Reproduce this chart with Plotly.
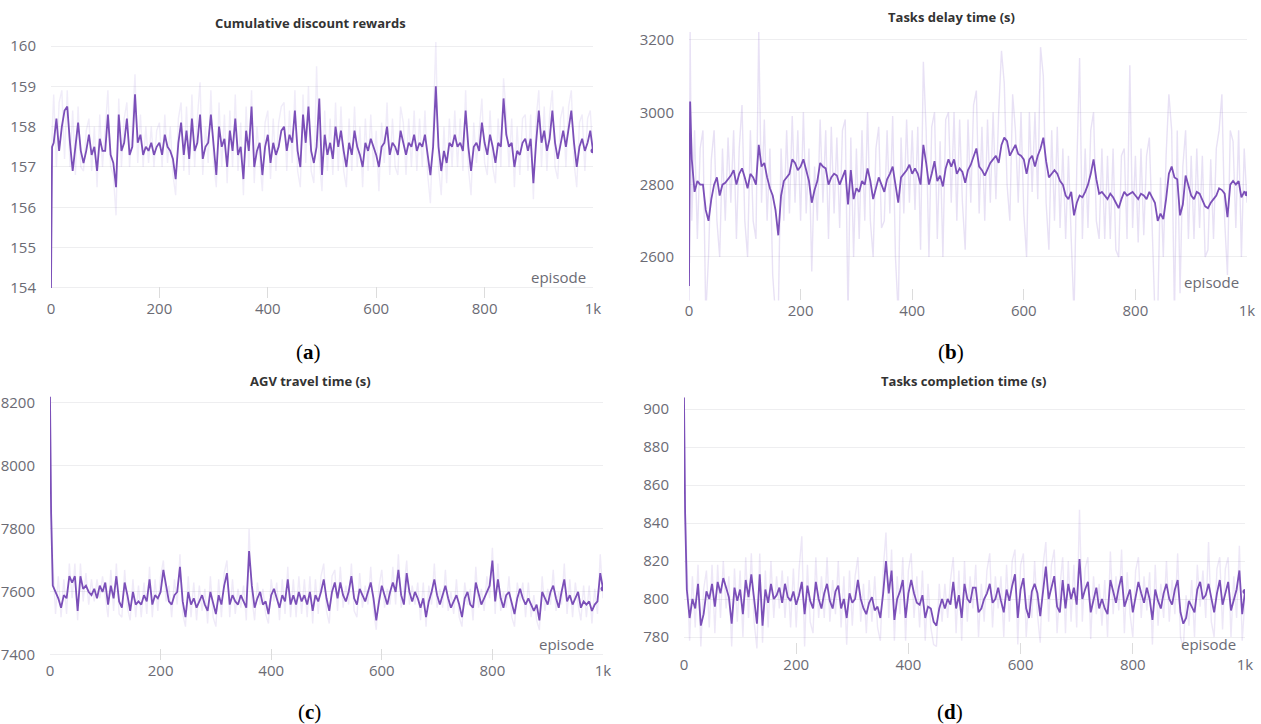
import plotly.graph_objects as go

# ---------------- data ----------------
EPISODES = [0, 2] + list(range(5, 1001, 5))
X_TICK_VALS = [0, 200, 400, 600, 800, 1000]
X_TICK_TEXT = ["0", "200", "400", "600", "800", "1k"]

TITLES = ["Cumulative discount rewards", "Tasks delay time (s)",
          "AGV travel time (s)", "Tasks completion time (s)"]
CAPTIONS = ["a", "b", "c", "d"]

A_SMOOTH = [154.0, 157.5,
    157.6, 158.2, 157.4, 158.0, 158.4, 158.5, 157.6, 156.9, 157.5, 158.1,
    157.4, 157.1, 157.4, 157.8, 157.3, 157.5, 156.9, 157.7, 157.4, 157.4,
    158.3, 157.3, 157.1, 156.5, 158.3, 157.4, 157.6, 158.2, 157.3, 157.5,
    158.8, 157.6, 157.8, 157.3, 157.5, 157.4, 157.6, 157.3, 157.5, 157.6,
    157.3, 157.8, 157.5, 157.4, 157.2, 156.7, 157.6, 158.1, 157.3, 157.9,
    157.2, 158.2, 157.4, 157.6, 158.3, 157.2, 157.5, 157.6, 158.3, 157.6,
    156.8, 158.0, 157.5, 157.7, 157.0, 157.9, 157.4, 158.2, 157.3, 157.5,
    156.7, 157.9, 157.4, 158.5, 157.0, 157.4, 157.6, 156.8, 157.5, 157.8,
    157.1, 157.6, 157.3, 157.5, 157.9, 158.0, 157.4, 157.8, 157.6, 158.4,
    157.4, 157.0, 158.3, 157.6, 158.5, 157.4, 157.1, 157.5, 158.7, 156.8,
    157.8, 157.3, 157.6, 157.2, 158.0, 157.5, 157.9, 157.4, 157.0, 157.6,
    157.3, 157.9, 157.5, 157.3, 157.0, 157.6, 157.4, 157.7, 157.5, 157.3,
    157.0, 157.5, 157.6, 158.0, 157.3, 157.6, 157.5, 157.3, 157.9, 157.6,
    157.3, 157.6, 157.5, 157.8, 157.4, 157.6, 157.5, 157.8, 157.3, 156.8,
    157.5, 159.0, 157.5, 156.9, 157.4, 157.1, 157.6, 157.5, 157.8, 157.5,
    157.6, 157.4, 158.4, 157.5, 156.9, 157.5, 157.6, 157.4, 158.1, 157.6,
    157.3, 157.8, 157.5, 157.1, 157.6, 157.5, 158.7, 157.8, 157.5, 157.6,
    157.0, 157.4, 157.3, 157.6, 157.7, 157.4, 157.7, 156.6, 157.6, 158.4,
    157.6, 157.9, 157.4, 157.7, 158.4, 157.6, 157.2, 157.6, 157.9, 157.5,
    157.9, 158.4, 157.6, 157.0, 157.5, 157.7, 157.4, 157.6, 157.9, 157.4]

A_RAW = [154.0, 157.8,
    158.8, 157.0, 158.6, 158.9, 157.2, 158.9, 157.0, 158.4, 156.8, 158.5,
    157.0, 156.9, 157.9, 158.2, 156.9, 158.0, 156.5, 158.3, 157.0, 157.9,
    158.9, 157.0, 156.8, 155.8, 158.7, 157.0, 158.2, 158.6, 157.0, 158.0,
    159.3, 157.1, 158.3, 157.0, 158.0, 157.1, 158.0, 157.0, 157.9, 158.1,
    157.0, 158.3, 157.1, 158.0, 156.8, 156.3, 158.2, 158.6, 156.9, 158.5,
    156.8, 158.8, 157.0, 158.2, 159.1, 156.8, 158.0, 157.1, 158.9, 157.1,
    156.5, 158.6, 157.0, 158.3, 156.6, 158.4, 157.0, 158.8, 156.9, 158.1,
    156.3, 158.5, 157.0, 158.9, 156.6, 158.0, 157.1, 156.4, 158.1, 158.4,
    156.7, 158.2, 156.9, 158.1, 158.5, 158.6, 156.9, 158.4, 157.1, 158.9,
    156.9, 156.5, 158.8, 157.1, 159.0, 156.9, 156.6, 159.5, 157.2, 156.4,
    158.4, 156.9, 158.2, 156.8, 158.6, 156.9, 158.5, 156.9, 156.5, 158.2,
    156.9, 158.5, 157.0, 158.0, 156.5, 158.2, 156.9, 158.3, 157.0, 157.9,
    156.4, 158.1, 157.1, 158.6, 156.8, 158.2, 157.0, 156.8, 158.5, 158.1,
    156.8, 158.2, 157.0, 158.4, 156.9, 158.2, 157.0, 158.4, 156.8, 156.1,
    158.0, 160.1, 157.0, 156.3, 158.0, 156.6, 158.2, 157.0, 158.4, 157.0,
    158.2, 156.9, 158.9, 157.0, 156.3, 158.1, 157.1, 158.0, 158.7, 157.1,
    156.8, 158.4, 157.0, 156.6, 158.2, 157.0, 159.2, 158.3, 157.0, 158.2,
    156.5, 158.0, 156.8, 158.2, 158.3, 156.9, 158.3, 156.2, 158.2, 158.9,
    157.0, 158.5, 156.9, 158.3, 158.9, 157.0, 156.7, 158.2, 158.5, 157.0,
    158.5, 158.9, 157.1, 156.5, 158.1, 158.3, 156.9, 158.2, 158.4, 157.3]

B_SMOOTH = [2520, 3030,
    2870, 2780, 2810, 2800, 2800, 2730, 2700, 2760, 2800, 2820,
    2770, 2800, 2805, 2815, 2825, 2840, 2800, 2830, 2845, 2820,
    2790, 2830, 2820, 2800, 2910, 2850, 2860, 2820, 2790, 2770,
    2730, 2660, 2770, 2810, 2820, 2830, 2870, 2860, 2840, 2850,
    2870, 2840, 2810, 2750, 2785, 2810, 2860, 2850, 2845, 2800,
    2820, 2830, 2825, 2800, 2820, 2840, 2745, 2840, 2760, 2790,
    2780, 2810, 2800, 2845, 2810, 2760, 2790, 2820, 2800, 2780,
    2815, 2830, 2850, 2800, 2750, 2820, 2830, 2840, 2855, 2830,
    2845, 2830, 2800, 2910, 2860, 2800, 2830, 2865, 2810, 2825,
    2795, 2845, 2870, 2850, 2870, 2830, 2845, 2835, 2805, 2840,
    2855, 2875, 2900, 2850, 2840, 2825, 2845, 2860, 2870, 2880,
    2860, 2910, 2930, 2920, 2880, 2895, 2910, 2885, 2880, 2870,
    2830, 2870, 2880, 2850, 2880, 2900, 2930, 2865, 2820, 2830,
    2840, 2830, 2810, 2800, 2770, 2760, 2780, 2715, 2750, 2770,
    2765, 2780, 2800, 2830, 2870, 2815, 2775, 2780, 2770, 2760,
    2775, 2765, 2750, 2735, 2760, 2780, 2770, 2775, 2780, 2770,
    2760, 2775, 2770, 2760, 2780, 2765, 2750, 2700, 2720, 2705,
    2760, 2830, 2850, 2820, 2815, 2715, 2745, 2825, 2795, 2770,
    2760, 2780, 2775, 2755, 2740, 2735, 2750, 2760, 2770, 2790,
    2785, 2775, 2710, 2800, 2810, 2800, 2810, 2765, 2780, 2775]

B_RAW = [2440, 3222,
    2700, 2950, 2650, 2900, 2950, 2440, 2600, 2870, 2950, 2700,
    2600, 2900, 2700, 2930, 2750, 2950, 2650, 2900, 3020, 2700,
    2600, 2950, 2700, 2650, 3222, 2750, 2980, 2700, 2900, 2550,
    2440, 2440, 2900, 2700, 2950, 2720, 2990, 2750, 2950, 2700,
    3000, 2720, 2900, 2560, 2850, 2700, 2980, 2750, 2950, 2650,
    2960, 2720, 2930, 2680, 2950, 2980, 2440, 2930, 2600, 2900,
    2650, 2950, 2700, 3000, 2700, 2600, 2900, 2960, 2680, 2700,
    2950, 2720, 2990, 2600, 2440, 2930, 2720, 2980, 2750, 2950,
    2730, 2960, 2620, 3140, 2950, 2600, 2960, 3000, 2650, 2920,
    2600, 2980, 3000, 2750, 3000, 2700, 2980, 2750, 2620, 2980,
    2750, 3020, 3060, 2720, 2960, 2700, 2980, 2750, 3000, 2760,
    3000, 3170, 3080, 2800, 2700, 3050, 2950, 2750, 3000, 2720,
    2600, 3000, 2780, 3000, 2760, 3180, 3100, 2750, 2620, 2950,
    2700, 2960, 2680, 2900, 2650, 2880, 2650, 2440, 2850, 3150,
    2650, 2900, 2680, 2950, 3000, 2700, 2650, 2900, 2650, 2880,
    2650, 2900, 2620, 2600, 2880, 2900, 2650, 3130, 2680, 2880,
    2640, 2900, 2660, 2880, 2930, 2650, 2440, 2440, 2820, 2600,
    2880, 3050, 2950, 2440, 2950, 2500, 2850, 2950, 2650, 2880,
    2650, 2900, 2680, 2880, 2600, 2620, 2870, 2650, 2900, 2950,
    3050, 2700, 2550, 2950, 2920, 2680, 2950, 2600, 2900, 2750]

C_SMOOTH = [8220, 7850,
    7620, 7600, 7580, 7550, 7590, 7580, 7650, 7630, 7650, 7540,
    7650, 7610, 7620, 7600, 7590, 7610, 7580, 7620, 7600, 7630,
    7560, 7620, 7580, 7650, 7570, 7550, 7630, 7590, 7540, 7600,
    7560, 7570, 7560, 7590, 7570, 7640, 7560, 7590, 7580, 7600,
    7670, 7620, 7570, 7560, 7590, 7600, 7680, 7570, 7520, 7600,
    7560, 7580, 7550, 7570, 7590, 7560, 7540, 7600, 7560, 7530,
    7590, 7560, 7620, 7660, 7560, 7590, 7570, 7560, 7590, 7570,
    7550, 7730, 7620, 7550, 7580, 7600, 7560, 7570, 7530, 7590,
    7610, 7580, 7550, 7590, 7570, 7640, 7560, 7590, 7560, 7600,
    7570, 7590, 7560, 7600, 7540, 7590, 7570, 7600, 7640, 7580,
    7540, 7600, 7630, 7580, 7630, 7590, 7570, 7600, 7650, 7580,
    7560, 7610, 7590, 7570, 7600, 7630, 7580, 7510, 7570, 7620,
    7590, 7560, 7600, 7630, 7600, 7670, 7590, 7560, 7660, 7600,
    7570, 7600, 7580, 7550, 7580, 7520, 7570, 7600, 7640, 7590,
    7560, 7590, 7620, 7580, 7550, 7570, 7590, 7560, 7520, 7580,
    7600, 7560, 7550, 7630, 7590, 7560, 7580, 7600, 7620, 7700,
    7570, 7640, 7580, 7550, 7590, 7600, 7560, 7530, 7580, 7610,
    7580, 7560, 7580, 7560, 7540, 7560, 7510, 7600, 7580, 7560,
    7600, 7620, 7580, 7550, 7600, 7640, 7570, 7590, 7560, 7580,
    7600, 7550, 7570, 7560, 7570, 7540, 7560, 7570, 7660, 7610]

C_RAW = [8220, 7900,
    7700, 7530, 7650, 7520, 7640, 7530, 7690, 7580, 7690, 7510,
    7690, 7570, 7660, 7560, 7640, 7570, 7640, 7580, 7650, 7580,
    7520, 7670, 7540, 7690, 7530, 7520, 7670, 7550, 7510, 7640,
    7520, 7620, 7520, 7630, 7530, 7680, 7520, 7640, 7540, 7650,
    7700, 7570, 7620, 7520, 7640, 7560, 7720, 7530, 7490, 7650,
    7520, 7630, 7510, 7620, 7540, 7610, 7500, 7650, 7520, 7490,
    7640, 7520, 7660, 7700, 7520, 7640, 7530, 7610, 7550, 7620,
    7510, 7800, 7580, 7510, 7630, 7560, 7610, 7530, 7500, 7640,
    7570, 7630, 7510, 7640, 7530, 7680, 7520, 7640, 7520, 7650,
    7530, 7640, 7520, 7650, 7500, 7640, 7530, 7650, 7690, 7540,
    7500, 7650, 7670, 7540, 7680, 7550, 7620, 7560, 7690, 7540,
    7520, 7660, 7550, 7620, 7560, 7680, 7540, 7480, 7620, 7670,
    7550, 7610, 7560, 7680, 7560, 7720, 7550, 7610, 7700, 7560,
    7620, 7560, 7630, 7510, 7630, 7490, 7620, 7560, 7690, 7550,
    7610, 7550, 7670, 7540, 7600, 7530, 7640, 7520, 7490, 7630,
    7560, 7610, 7510, 7680, 7550, 7610, 7540, 7650, 7580, 7740,
    7530, 7690, 7540, 7600, 7550, 7650, 7520, 7490, 7630, 7570,
    7630, 7520, 7630, 7520, 7590, 7510, 7480, 7650, 7540, 7610,
    7560, 7670, 7540, 7600, 7560, 7690, 7530, 7640, 7520, 7630,
    7560, 7510, 7620, 7520, 7620, 7500, 7610, 7530, 7720, 7580]

D_SMOOTH = [906, 845,
    805, 790, 800, 795, 808, 786, 792, 804, 800, 808,
    796, 809, 803, 811, 806, 801, 787, 806, 799, 805,
    792, 810, 801, 813, 800, 787, 813, 786, 805, 798,
    808, 800, 802, 806, 798, 808, 801, 799, 804, 797,
    802, 809, 792, 807, 799, 795, 809, 800, 795, 803,
    808, 799, 795, 804, 807, 795, 800, 790, 803, 798,
    800, 810, 800, 795, 792, 798, 801, 794, 796, 790,
    803, 820, 803, 815, 789, 800, 804, 810, 790, 803,
    810, 803, 798, 797, 802, 790, 796, 795, 788, 786,
    795, 800, 795, 800, 797, 809, 795, 802, 790, 808,
    800, 798, 806, 806, 793, 795, 800, 803, 808, 798,
    800, 806, 799, 793, 805, 799, 807, 813, 790, 805,
    811, 795, 790, 804, 808, 803, 791, 805, 817, 800,
    806, 812, 796, 793, 810, 795, 808, 800, 806, 797,
    821, 800, 805, 809, 793, 800, 806, 795, 800, 795,
    792, 810, 804, 798, 806, 812, 796, 800, 805, 793,
    802, 809, 803, 798, 806, 800, 789, 805, 799, 795,
    803, 808, 800, 797, 805, 810, 793, 787, 790, 799,
    796, 793, 805, 809, 800, 802, 808, 800, 793, 803,
    810, 797, 803, 809, 794, 800, 805, 815, 792, 804]

D_RAW = [906, 850,
    820, 778, 812, 785, 818, 775, 805, 815, 785, 818,
    782, 818, 790, 820, 795, 812, 775, 816, 788, 815,
    780, 822, 790, 824, 788, 774, 824, 777, 815, 785,
    820, 790, 812, 795, 815, 790, 812, 785, 816, 785,
    815, 833, 775, 818, 788, 782, 822, 790, 812, 790,
    822, 788, 810, 792, 820, 785, 812, 776, 815, 786,
    812, 822, 788, 808, 782, 810, 788, 812, 785, 778,
    815, 835, 790, 826, 778, 812, 792, 822, 778, 815,
    824, 790, 812, 785, 815, 778, 808, 785, 776, 775,
    808, 788, 808, 790, 810, 822, 782, 815, 778, 820,
    788, 812, 795, 818, 780, 808, 788, 815, 824, 785,
    812, 795, 812, 780, 818, 788, 820, 826, 776, 818,
    824, 780, 802, 790, 820, 792, 777, 818, 830, 788,
    818, 826, 782, 806, 822, 782, 820, 788, 818, 785,
    847, 788, 816, 822, 779, 812, 792, 808, 786, 810,
    780, 825, 792, 812, 794, 826, 782, 814, 792, 780,
    815, 822, 790, 812, 794, 814, 776, 818, 786, 808,
    790, 820, 788, 810, 792, 824, 780, 774, 802, 786,
    810, 780, 818, 796, 815, 790, 830, 788, 780, 816,
    822, 784, 816, 822, 780, 812, 790, 828, 778, 800]

Y_TICKS = [
    [154, 155, 156, 157, 158, 159, 160],
    [2600, 2800, 3000, 3200],
    [7400, 7600, 7800, 8000, 8200],
    [780, 800, 820, 840, 860, 880, 900],
]

for s in (A_SMOOTH, A_RAW, B_SMOOTH, B_RAW, C_SMOOTH, C_RAW, D_SMOOTH, D_RAW):
    assert len(s) == len(EPISODES), len(s)

# ---------------- layout geometry (pixels) ----------------
W, H = 1261, 724
PANELS = [
    dict(xl=51, xr=593, yt=42.0, yb=298.0, yr=[153.75, 160.1]),
    dict(xl=689, xr=1247, yt=32.0, yb=300.4, yr=[2480, 3222]),
    dict(xl=50, xr=603, yt=395.1, yb=659.7, yr=[7385, 8225]),
    dict(xl=684, xr=1245, yt=395.7, yb=654.1, yr=[771, 907]),
]
TITLE_POS = [(310, 23), (951, 17), (310, 381), (964, 381)]
CAPTION_POS = [(308, 352), (951, 352), (309, 712), (950, 712)]
EPISODE_POS = [(588, 277), (1241, 282), (596, 644), (1238, 644)]
RAW_OPACITY = [0.13, 0.2, 0.14, 0.16]

SMOOTH_COLOR = "#7b4fb8"
TICK_FONT = dict(family="Open Sans, Noto Sans, sans-serif", size=15, color="#6b6b74")

fig = go.Figure()
series = [(A_SMOOTH, A_RAW), (B_SMOOTH, B_RAW), (C_SMOOTH, C_RAW), (D_SMOOTH, D_RAW)]

annotations = []
for i, (smooth, raw) in enumerate(series):
    n = i + 1
    xa = "x" if n == 1 else f"x{n}"
    ya = "y" if n == 1 else f"y{n}"
    fig.add_trace(go.Scatter(x=EPISODES, y=raw, mode="lines", xaxis=xa, yaxis=ya,
                             line=dict(color=f"rgba(140, 105, 205, {RAW_OPACITY[i]})", width=1.4),
                             hoverinfo="skip"))
    fig.add_trace(go.Scatter(x=EPISODES, y=smooth, mode="lines", xaxis=xa, yaxis=ya,
                             line=dict(color=SMOOTH_COLOR, width=1.8)))
    fig.add_trace(go.Scatter(x=[EPISODES[-1]], y=[smooth[-1]], mode="markers",
                             xaxis=xa, yaxis=ya,
                             marker=dict(color=SMOOTH_COLOR, size=5)))
    p = PANELS[i]
    xkey = "xaxis" if n == 1 else f"xaxis{n}"
    ykey = "yaxis" if n == 1 else f"yaxis{n}"
    fig.update_layout(**{
        xkey: dict(domain=[p["xl"] / W, p["xr"] / W], range=[0, 1000], anchor=ya,
                   showgrid=False, zeroline=False, showline=False, automargin=False,
                   tickvals=X_TICK_VALS, ticktext=X_TICK_TEXT,
                   ticks="inside", ticklen=11, tickcolor="#dcdcdc", tickwidth=1,
                   tickfont=TICK_FONT),
        ykey: dict(domain=[1 - p["yb"] / H, 1 - p["yt"] / H], range=p["yr"], anchor=xa,
                   showgrid=True, gridcolor="#eeeef0", gridwidth=1, automargin=False,
                   zeroline=False, showline=False, ticks="",
                   tickvals=Y_TICKS[i], tickfont=TICK_FONT, ticklabelstandoff=14),
    })
    tx, ty = TITLE_POS[i]
    annotations.append(dict(x=tx / W, y=1 - ty / H, xref="paper", yref="paper",
                            text=f"<b>{TITLES[i]}</b>", showarrow=False,
                            xanchor="center", yanchor="middle",
                            font=dict(family="Open Sans, Noto Sans, sans-serif",
                                      size=13, color="#333333")))
    cx, cy = CAPTION_POS[i]
    annotations.append(dict(x=cx / W, y=1 - cy / H, xref="paper", yref="paper",
                            text=f"(<b>{CAPTIONS[i]}</b>)", showarrow=False,
                            xanchor="center", yanchor="middle",
                            font=dict(family="Liberation Serif, DejaVu Serif, serif",
                                      size=21, color="#000000")))
    ex, ey = EPISODE_POS[i]
    annotations.append(dict(x=ex / W, y=1 - ey / H, xref="paper", yref="paper",
                            text="episode", showarrow=False,
                            xanchor="right", yanchor="middle",
                            font=dict(family="Open Sans, Noto Sans, sans-serif",
                                      size=15, color="#6b6b74")))

fig.update_layout(width=W, height=H,
                  margin=dict(l=0, r=0, t=0, b=0, pad=0, autoexpand=False),
                  paper_bgcolor="white", plot_bgcolor="white",
                  showlegend=False, annotations=annotations)

fig.write_html("out.html")
